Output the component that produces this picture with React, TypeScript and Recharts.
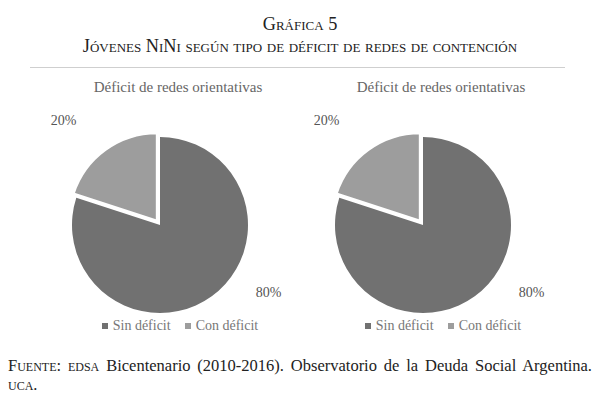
import { PieChart, Pie, Cell } from "recharts";

const CATEGORIES = ["Sin déficit", "Con déficit"];
const LEFT_VALUES = [80, 20];
const RIGHT_VALUES = [80, 20];
const CHART_TITLES = ["Déficit de redes orientativas", "Déficit de redes orientativas"];

const COLORS = ["#717171", "#9d9d9d"];
const FONT = "'Liberation Serif', 'DejaVu Serif', serif";
const RAD = Math.PI / 180;
// label placement relative to slice mid angle (Excel "best fit" look)
const LABEL_POS = [{ dAngle: 22, r: 128 }, { dAngle: 7, r: 137 }];
const EXPLODE = 5;

const makeLabel = (only: number) => (p: any) => {
  if (p.index !== only) return null;
  const pos = LABEL_POS[p.index];
  const a = (p.midAngle + pos.dAngle) * RAD;
  const x = p.cx + pos.r * Math.cos(a);
  const y = p.cy - pos.r * Math.sin(a);
  return (
    <text x={x} y={y} fill="#555" fontSize={14} fontFamily={FONT} textAnchor="middle" dominantBaseline="central">
      {`${p.value}%`}
    </text>
  );
};

function PiePanel({ title, values, left }: { title: string; values: number[]; left: number }) {
  const data = CATEGORIES.map((name, i) => ({ name, value: values[i] }));
  const cx = 120, cy = 155, r = 88;
  // offset of the pulled-out small slice, along its bisector
  const total = values.reduce((s, v) => s + v, 0);
  const mid = (90 - 360 * (values[0] + values[1] / 2) / total) * RAD;
  const ox = EXPLODE * Math.cos(mid), oy = -EXPLODE * Math.sin(mid);
  return (
    <div style={{ position: "absolute", left, top: 70, width: 280, height: 270 }}>
      <PieChart width={280} height={270} margin={{ top: 0, right: 0, bottom: 0, left: 0 }}>
        <Pie data={data} dataKey="value" cx={cx} cy={cy} outerRadius={r} startAngle={90} endAngle={-270}
          stroke="none" isAnimationActive={false} labelLine={false} label={makeLabel(0)}>
          {data.map((_, i) => <Cell key={i} fill={i === 0 ? COLORS[0] : "transparent"} />)}
        </Pie>
        <Pie data={data} dataKey="value" cx={cx + ox} cy={cy + oy} outerRadius={r} startAngle={90} endAngle={-270}
          stroke="#fff" strokeWidth={2.5} isAnimationActive={false} labelLine={false} label={makeLabel(1)}>
          {data.map((_, i) => <Cell key={i} fill={i === 1 ? COLORS[1] : "transparent"} stroke={i === 1 ? "#fff" : "none"} />)}
        </Pie>
      </PieChart>
      <div style={{ position: "absolute", left: 0, width: 276, top: 8, textAlign: "center", fontSize: 15, lineHeight: "18px", color: "#666", fontFamily: FONT }}>
        {title}
      </div>
      <div style={{ position: "absolute", top: 248, left: 0, width: 280, display: "flex", justifyContent: "center", gap: 14, fontSize: 14, lineHeight: "16px", color: "#777", fontFamily: FONT }}>
        {CATEGORIES.map((c, i) => (
          <span key={c} style={{ display: "flex", alignItems: "center", gap: 5 }}>
            <span style={{ width: 6, height: 6, background: COLORS[i], display: "inline-block" }} />
            {c}
          </span>
        ))}
      </div>
    </div>
  );
}

export default function App() {
  return (
    <div style={{ position: "absolute", left: 0, top: 0, width: 600, height: 395, background: "#fff", fontFamily: FONT, color: "#222", overflow: "hidden" }}>
      <div style={{ position: "absolute", top: 13, width: 600, textAlign: "center", fontSize: 18.3, fontVariant: "small-caps", lineHeight: "22px" }}>
        Gráfica 5
      </div>
      <div style={{ position: "absolute", top: 35, width: 600, textAlign: "center", fontSize: 18.3, fontVariant: "small-caps", lineHeight: "22px" }}>
        Jóvenes NiNi según tipo de déficit de redes de contención
      </div>
      <div style={{ position: "absolute", top: 67, left: 30, width: 535, height: 1, background: "#cfcfcf" }} />
      <PiePanel title={CHART_TITLES[0]} values={LEFT_VALUES} left={40} />
      <PiePanel title={CHART_TITLES[1]} values={RIGHT_VALUES} left={303} />
      <div style={{ position: "absolute", top: 356, left: 8, width: 584, fontSize: 16.5, lineHeight: "19px", textAlign: "justify", textAlignLast: "left" }}>
        <span style={{ fontVariant: "small-caps" }}>Fuente: edsa</span> Bicentenario (2010-2016). Observatorio de la Deuda Social Argentina.{" "}
        <span style={{ fontVariant: "small-caps" }}>uca.</span>
      </div>
    </div>
  );
}
